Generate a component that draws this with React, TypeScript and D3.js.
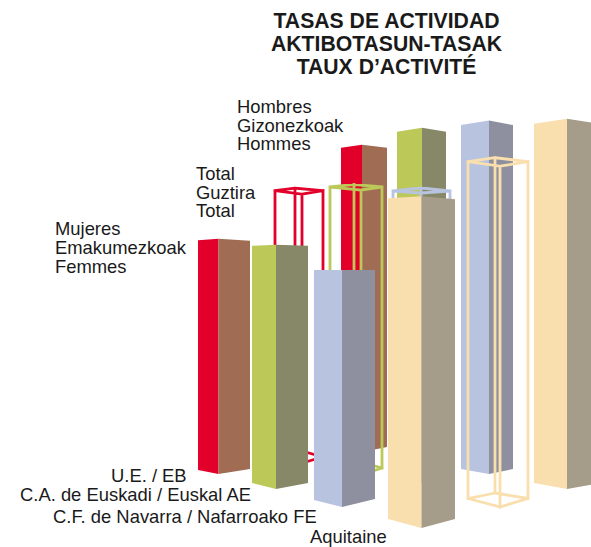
import React from "react";
import * as d3 from "d3";

const regions = ["U.E. / EB", "C.A. de Euskadi / Euskal AE", "C.F. de Navarra / Nafarroako FE", "Aquitaine"];
const titleLines = ["TASAS DE ACTIVIDAD", "AKTIBOTASUN-TASAK", "TAUX D’ACTIVITÉ"];
const womenLabel = ["Mujeres", "Emakumezkoak", "Femmes"];
const totalLabel = ["Total", "Guztira", "Total"];
const menLabel = ["Hombres", "Gizonezkoak", "Hommes"];

// Activity rates (apparent bar heights)
const womenValues = [39.2, 40.7, 39.5, 55.3];
const totalValues = [44.8, 47.5, 48.0, 56.8];
const menValues = [51.2, 56.7, 58.9, 61.7];

const lightColors = ["#e2002b", "#bcc858", "#b7c3df", "#f9dfad"];
const darkColors = ["#a06c54", "#878867", "#8f909f", "#a59c89"];

// Perspective layout: [left x, mid x, right x, base y of the nearest corner, top dip L, top dip R, bottom rise L, bottom rise R]
const womenLayout = [
  [198, 218.5, 250, 474, 1.5, 2, 4, 5],
  [252, 276, 308, 489, 1, 1, 6, 6],
  [314, 342, 375, 507, 0, 0, 7, 8],
  [388, 421.5, 455, 528, 2, 3, 9, 9],
];
const menLayout = [
  [341, 362, 387, 452, 3, 3, 5, 5],
  [397, 422, 446, 468, 4, 4, 5, 5],
  [461, 489, 513, 474, 4.5, 4.5, 5, 5],
  [534, 567, 600, 489, 5, 5, 6, 6],
];
// [left x, back x, front x, right x, front base y, left/right dip, back rise, bottom: left/right rise, back rise]
const totalLayout = [
  [275, 295, 302, 323, 463, 3.5, 6, 6, 14],
  [330, 354, 361, 382, 475, 3, 5.5, 7, 15],
  [393, 421, 421, 450, 481, 2, 5, 7, 15],
  [468, 495, 500, 528, 507, 4.5, 8.5, 8.5, 14],
];

const pxPerUnit = d3.scaleLinear().domain([0, 100]).range([0, 600]);
const poly = d3.line<[number, number]>().curve(d3.curveLinearClosed);
const seg = d3.line<[number, number]>();
const font = "'Liberation Sans', Arial, sans-serif";
const ink = "#1a1a1a";

function SolidBar({ value, layout, light, dark }: { value: number; layout: number[]; light: string; dark: string }) {
  const [xl, xm, xr, base, dl, dr, rl, rr] = layout;
  const top = base - pxPerUnit(value);
  return (
    <g>
      <path fill={light} d={poly([[xl, top + dl], [xm, top], [xm, base], [xl, base - rl]]) ?? ""} />
      <path fill={dark} d={poly([[xm, top], [xr, top + dr], [xr, base - rr], [xm, base]]) ?? ""} />
    </g>
  );
}

function WireBar({ value, layout, color }: { value: number; layout: number[]; color: string }) {
  const [xl, xb, xf, xr, base, dip, backRise, botDip, botBack] = layout;
  const top = base - pxPerUnit(value);
  const tl: [number, number] = [xl, top - dip];
  const tb: [number, number] = [xb, top - backRise];
  const tr: [number, number] = [xr, top - dip];
  const tf: [number, number] = [xf, top];
  const bl: [number, number] = [xl, base - botDip];
  const bb: [number, number] = [xb, base - botBack];
  const br: [number, number] = [xr, base - botDip];
  const bf: [number, number] = [xf, base];
  const edges: [number, number][][] = [
    [tl, tb], [tb, tr], [tr, tf], [tf, tl],
    [bl, bb], [bb, br], [br, bf], [bf, bl],
    [tl, bl], [tb, bb], [tr, br], [tf, bf],
  ];
  return (
    <path
      d={edges.map((e) => seg(e)).join("")}
      fill="none"
      stroke={color}
      strokeWidth={2.8}
      strokeLinecap="square"
    />
  );
}

function Lines({ lines, x, ys, ...rest }: { lines: string[]; x: number; ys: number[]; [k: string]: unknown }) {
  return (
    <>
      {lines.map((l, i) => (
        <text key={i} x={x} y={ys[i]} {...rest}>{l}</text>
      ))}
    </>
  );
}

const labelSize = 18.4;

export default function App() {
  return (
    <svg width={591} height={547} viewBox="0 0 591 547" style={{ position: "absolute", left: 0, top: 0, background: "#fff" }} fontFamily={font}>
      {menValues.map((v, i) => (
        <SolidBar key={i} value={v} layout={menLayout[i]} light={lightColors[i]} dark={darkColors[i]} />
      ))}
      {totalValues.map((v, i) => (
        <WireBar key={i} value={v} layout={totalLayout[i]} color={lightColors[i]} />
      ))}
      {womenValues.map((v, i) => (
        <SolidBar key={i} value={v} layout={womenLayout[i]} light={lightColors[i]} dark={darkColors[i]} />
      ))}
      <Lines lines={titleLines} x={386.5} ys={[28, 51, 74]} textAnchor="middle" fontWeight="bold" fontSize={21.2} fill={ink} />
      <Lines lines={menLabel} x={237} ys={[113, 132, 150]} fontSize={labelSize} fill={ink} />
      <Lines lines={totalLabel} x={196} ys={[180, 199, 217]} fontSize={labelSize} fill={ink} />
      <Lines lines={womenLabel} x={55} ys={[235, 254, 273]} fontSize={labelSize} fill={ink} />
      <text x={111} y={482} fontSize={labelSize} fill={ink}>{regions[0]}</text>
      <text x={20} y={501} fontSize={labelSize} fill={ink}>{regions[1]}</text>
      <text x={53} y={523} fontSize={labelSize} fill={ink}>{regions[2]}</text>
      <text x={310} y={543} fontSize={labelSize} fill={ink}>{regions[3]}</text>
    </svg>
  );
}
